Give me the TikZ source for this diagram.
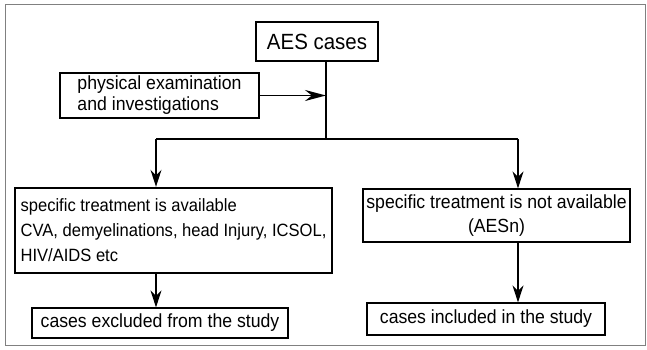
\documentclass[tikz,border=0pt]{standalone}
\usepackage{fontspec}
\setmainfont{Liberation Sans}[FakeStretch=0.93]
\usetikzlibrary{arrows.meta}

\tikzset{box/.style={draw, line width=1.2pt, inner sep=0pt, font=\fontsize{19}{21}\selectfont},
  smalltext/.style={font=\fontsize{17.8}{25}\selectfont}}

\begin{document}
\begin{tikzpicture}[x=1pt, y=-1pt, line width=1.2pt, >={Stealth[length=17pt,width=11pt]}]
\useasboundingbox (0,0) rectangle (647,350);
\draw[gray, line width=1pt] (5,5) rectangle (645,345);
\node (aes) at (317,41.5) [box, minimum width=122pt, minimum height=39pt, font=\fontsize{22}{25}\selectfont] {AES cases};
\node (exam) at (159.5,95.5) [box, minimum width=199pt, minimum height=45pt, align=left] {physical examination\\and investigations};
\node (spec) at (173.5,230.5) [box, smalltext, line width=2.4pt, minimum width=317pt, minimum height=85pt, align=left] {specific treatment is available\\CVA, demyelinations, head Injury, ICSOL,\\HIV/AIDS etc};
\node (nspec) at (496.5,215.5) [box, minimum width=267pt, minimum height=53pt, align=center, font=\fontsize{19}{24}\selectfont] {specific treatment is not available\\(AESn)};
\node (excl) at (160,323) [box, minimum width=256pt, minimum height=30pt] {cases excluded from the study};
\node (incl) at (486,319) [box, minimum width=238pt, minimum height=32pt] {cases included in the study};
\coordinate (split) at (326,139);
\coordinate (left) at (156,139);
\coordinate (right) at (518,139);
\draw (split |- aes.south) -- (split);
\draw[->, line width=1.8pt, >={Stealth[length=21pt,width=11pt]}] (exam) -- (exam -| split);
\draw (left) -- (right);
\draw[->] (left) -- (left |- spec.north);
\draw[->] (right) -- (right |- nspec.north);
\draw[->] (left |- spec.south) -- (left |- excl.north);
\draw[->] (right |- nspec.south) -- (right |- incl.north);
\end{tikzpicture}
\end{document}
